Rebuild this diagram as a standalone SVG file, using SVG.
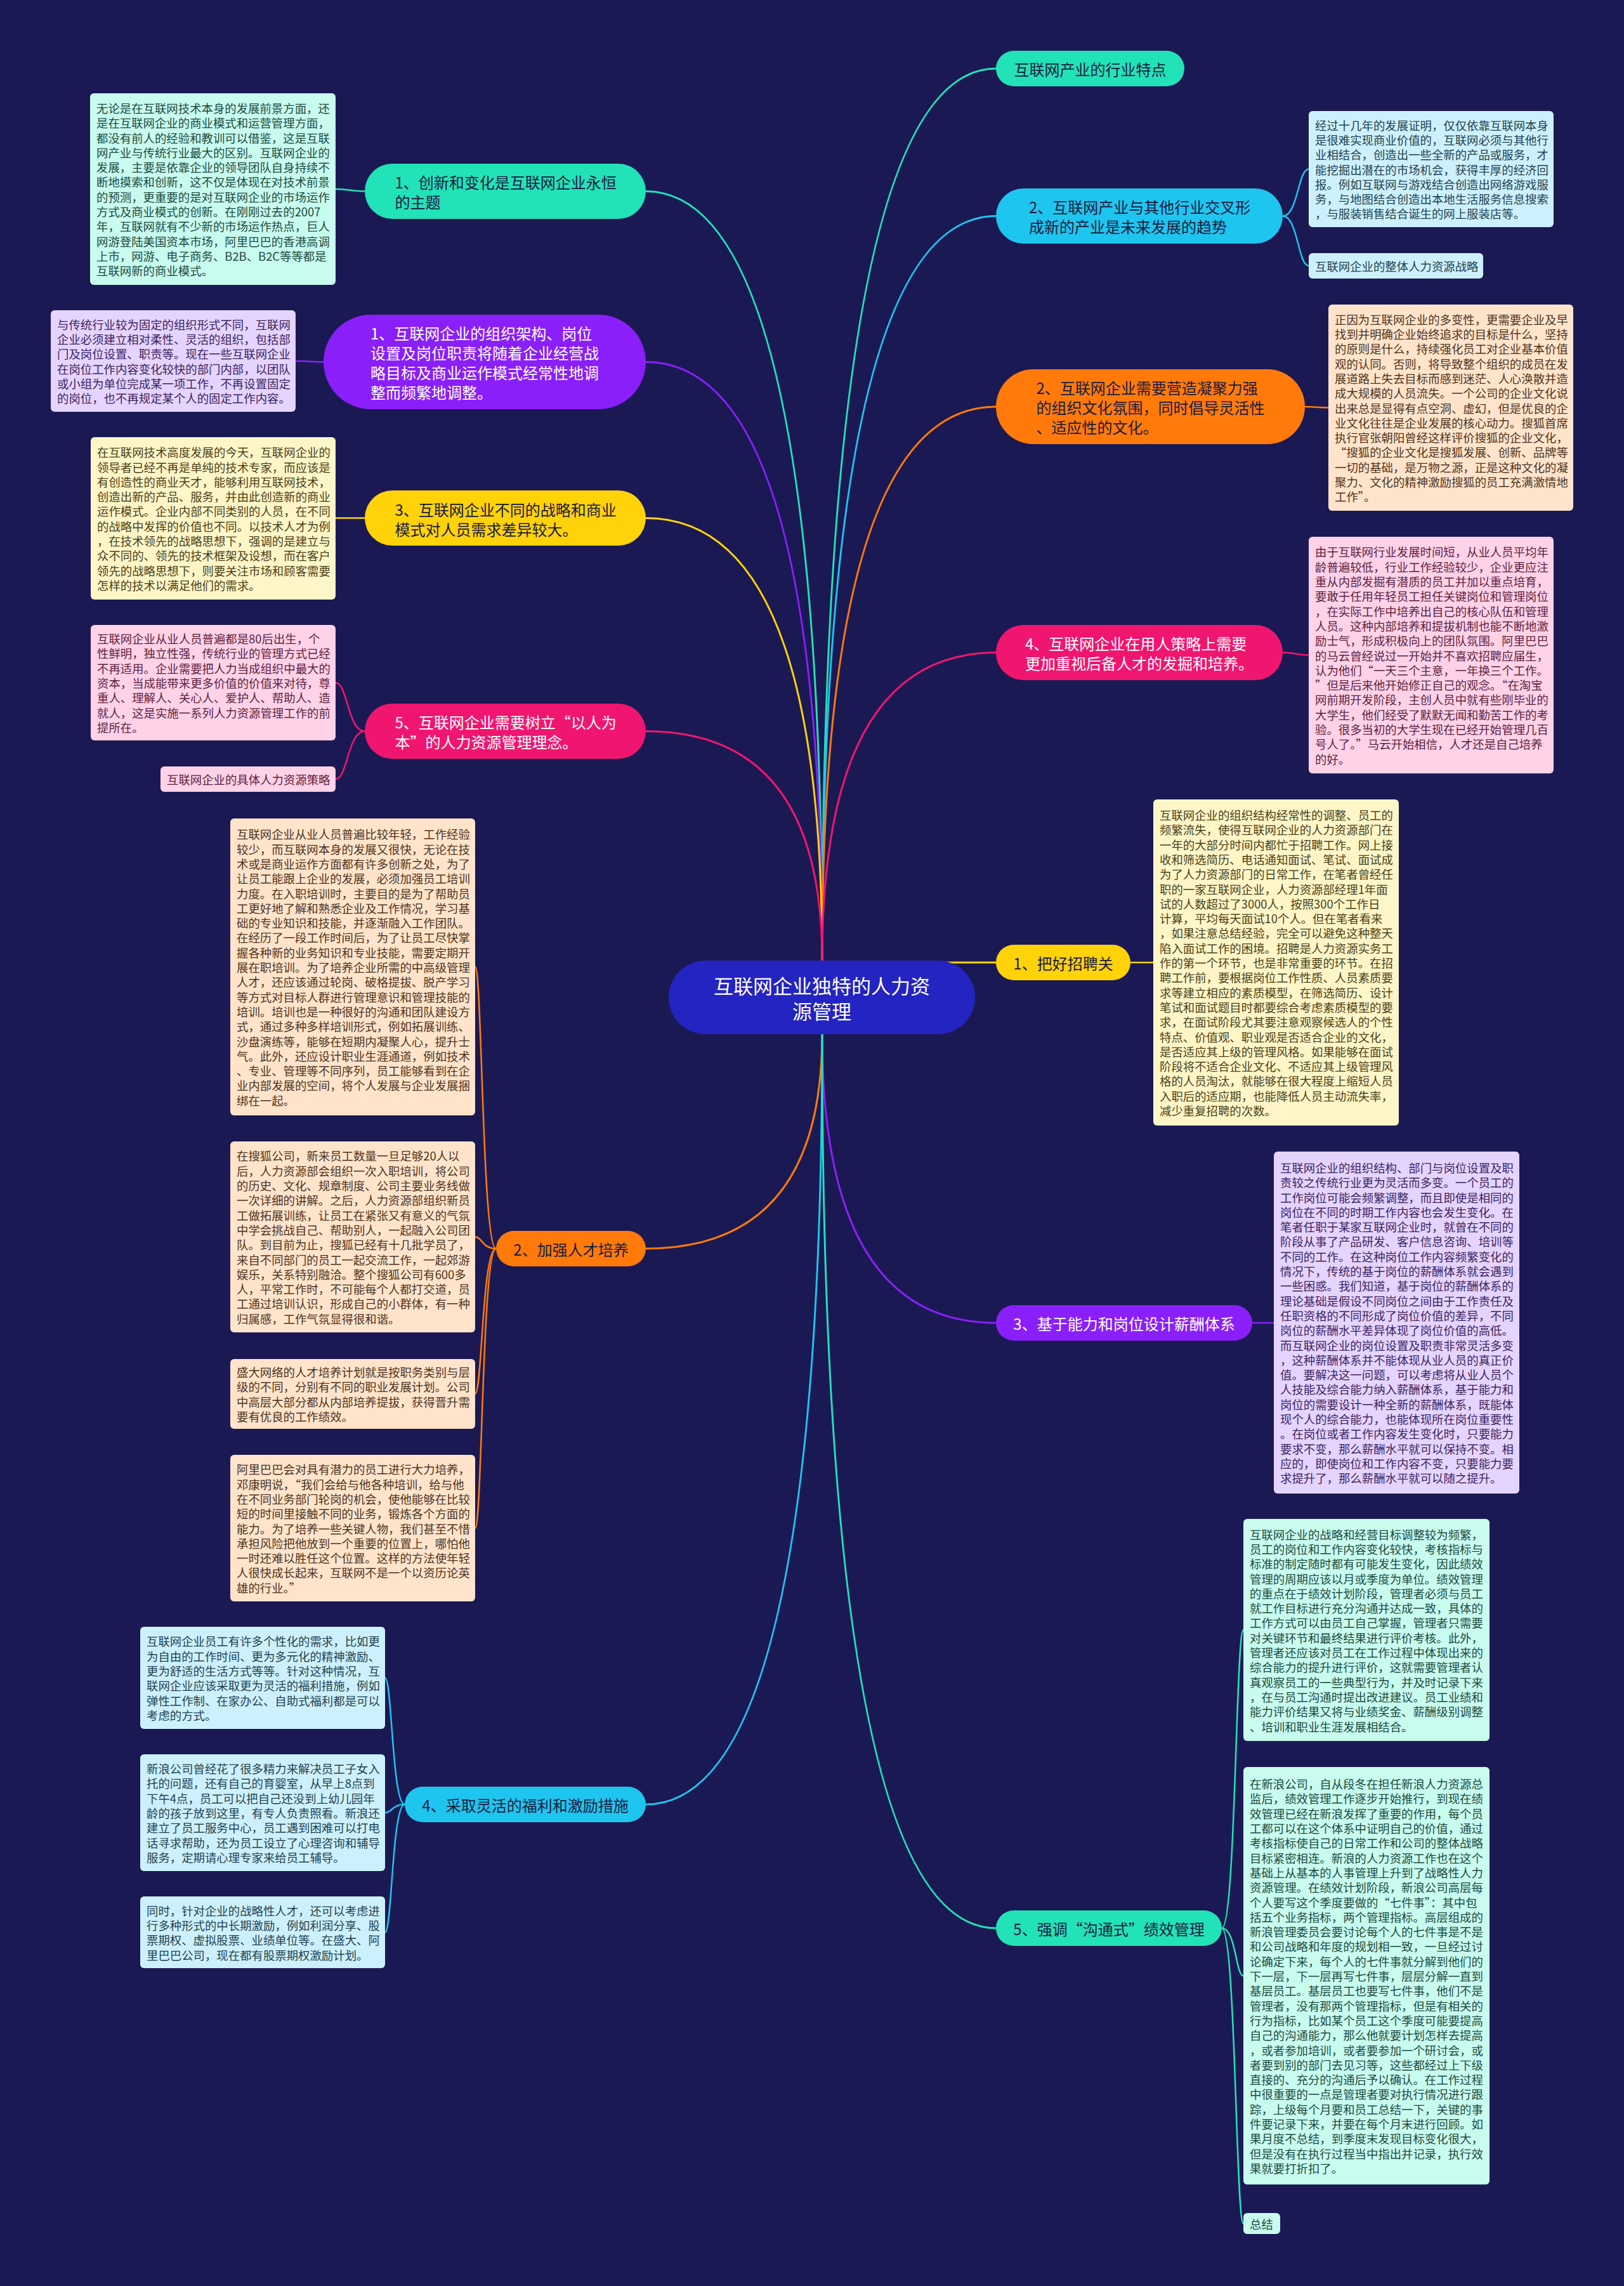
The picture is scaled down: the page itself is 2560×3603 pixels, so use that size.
<svg xmlns="http://www.w3.org/2000/svg" width="2560" height="3603" viewBox="0 0 2560 3603">
<style>
text{font-family:"Noto Sans CJK SC","Noto Sans",sans-serif;dominant-baseline:central}
.leaf text{font-size:18.4px}
.leaf rect{rx:6px}
.br text{font-size:24px}
.wire path{fill:none;stroke-width:3}
.sub path{fill:none;stroke-width:2.5}
.g{fill:#22e2b8}.gs{stroke:#22e2b8}
.b{fill:#1ec5ef}.bs{stroke:#1ec5ef}
.o{fill:#ff7a0a}.os{stroke:#ff7a0a}
.p{fill:#f0166f}.ps{stroke:#f0166f}
.y{fill:#ffd20a}.ys{stroke:#ffd20a}
.v{fill:#8a1ffa}.vs{stroke:#8a1ffa}
.dk text{fill:#1a1a3c}.wt text{fill:#ffffff}
.mint rect{fill:#c8fcef}.mint text{fill:#1c4a40}
.lav rect{fill:#e5d4ff}.lav text{fill:#3b2360}
.ylw rect{fill:#fff6c8}.ylw text{fill:#4a4016}
.pnk rect{fill:#ffd2e8}.pnk text{fill:#5c1f3d}
.pch rect{fill:#ffe4cb}.pch text{fill:#4d3320}
.blu rect{fill:#cdf1fc}.blu text{fill:#1f4150}
</style>
<rect width="2560" height="3603" fill="#1b1953"/>

<g id="connectors">
<g class="wire">
<path class="gs" d="M1296,1514 Q1296,108 1570,108"/>
<path class="gs" d="M1296,1514 Q1296,301.5 1018,301.5"/>
<path class="bs" d="M1296,1514 Q1296,340.5 1570,340.5"/>
<path class="vs" d="M1296,1514 Q1296,570.5 1018,570.5"/>
<path class="os" d="M1296,1514 Q1296,641 1570,641"/>
<path class="ys" d="M1296,1514 Q1296,816.5 1018,816.5"/>
<path class="ps" d="M1296,1514 Q1296,1028.5 1570,1028.5"/>
<path class="ps" d="M1296,1514 Q1296,1152.5 1018,1152.5"/>
<path class="ys" d="M1296,1517 H1570"/>
<path class="os" d="M1296,1630 Q1296,1968 1018,1968"/>
<path class="vs" d="M1296,1630 Q1296,2085 1570,2085"/>
<path class="bs" d="M1296,1630 Q1296,2844 1018,2844"/>
<path class="gs" d="M1296,1630 Q1296,3039 1570,3039"/>
</g>
<g class="sub">
<path class="gs" d="M575,301.5 C552,301.5 552,298 529,298"/>
<path class="vs" d="M510,570.5 C488,570.5 488,569 466,569"/>
<path class="ys" d="M575,816.5 H529"/>
<path class="ps" d="M575,1152.5 C548,1152.5 548,1076 529,1076"/>
<path class="ps" d="M575,1152.5 C548,1152.5 548,1228 529,1228"/>
<path class="os" d="M782,1968 C760,1968 760,1524 749,1524"/>
<path class="os" d="M782,1968 C760,1968 760,1949.5 749,1949.5"/>
<path class="os" d="M782,1968 C760,1968 760,2197 749,2197"/>
<path class="os" d="M782,1968 C760,1968 760,2408.5 749,2408.5"/>
<path class="bs" d="M638,2844 C618,2844 618,2644.5 607,2644.5"/>
<path class="bs" d="M638,2844 C618,2844 618,2857 607,2857"/>
<path class="bs" d="M638,2844 C618,2844 618,3045.5 607,3045.5"/>
<path class="bs" d="M2022,340.5 C2046,340.5 2046,266.5 2063,266.5"/>
<path class="bs" d="M2022,340.5 C2046,340.5 2046,419 2063,419"/>
<path class="os" d="M2057,641 C2075,641 2075,642.5 2094,642.5"/>
<path class="ps" d="M2022,1028.5 C2042,1028.5 2042,1032.5 2063,1032.5"/>
<path class="ys" d="M1782,1517 H1818"/>
<path class="vs" d="M1974,2085 H2008"/>
<path class="gs" d="M1926,3039 C1948,3039 1948,2569 1960,2569"/>
<path class="gs" d="M1926,3039 C1948,3039 1948,3114 1960,3114"/>
<path class="gs" d="M1926,3039 C1948,3039 1948,3504.5 1960,3504.5"/>
</g>
</g>

<g id="root">
<rect x="1054" y="1514" width="483" height="116" rx="58" fill="#2424c2"/>
<text x="1295.5" y="1552" font-size="31" fill="#ffffff" text-anchor="middle">互联网企业独特的人力资</text>
<text x="1295.5" y="1592" font-size="31" fill="#ffffff" text-anchor="middle">源管理</text>
</g>

<g id="n-r1" class="br dk"><rect class="g" x="1570" y="80" width="297" height="56" rx="28"/><text x="1718.5" y="108" text-anchor="middle">互联网产业的行业特点</text></g>
<g id="n-r2" class="br dk"><rect class="b" x="1570" y="297" width="452" height="87" rx="43.5"/><text><tspan x="1622" y="325">2、互联网产业与其他行业交叉形</tspan><tspan x="1622" y="356">成新的产业是未来发展的趋势</tspan></text></g>
<g id="n-r3" class="br dk"><rect class="o" x="1570" y="582" width="487" height="118" rx="59"/><text><tspan x="1633.5" y="610">2、互联网企业需要营造凝聚力强</tspan><tspan x="1633.5" y="641">的组织文化氛围，同时倡导灵活性</tspan><tspan x="1633.5" y="672">、适应性的文化。</tspan></text></g>
<g id="n-r4" class="br wt"><rect class="p" x="1570" y="985" width="452" height="87" rx="43.5"/><text><tspan x="1616" y="1013">4、互联网企业在用人策略上需要</tspan><tspan x="1616" y="1044">更加重视后备人才的发掘和培养。</tspan></text></g>
<g id="n-r5" class="br dk"><rect class="y" x="1570" y="1489" width="212" height="56" rx="28"/><text x="1676" y="1517" text-anchor="middle">1、把好招聘关</text></g>
<g id="n-r6" class="br wt"><rect class="v" x="1570" y="2057" width="404" height="56" rx="28"/><text x="1772" y="2085" text-anchor="middle">3、基于能力和岗位设计薪酬体系</text></g>
<g id="n-r7" class="br dk"><rect class="g" x="1570" y="3011" width="356" height="56" rx="28"/><text x="1748" y="3039" text-anchor="middle">5、强调“沟通式”绩效管理</text></g>

<g id="n-l1" class="br dk"><rect class="g" x="575" y="258" width="443" height="87" rx="43.5"/><text><tspan x="622.5" y="286">1、创新和变化是互联网企业永恒</tspan><tspan x="622.5" y="317">的主题</tspan></text></g>
<g id="n-l2" class="br wt"><rect class="v" x="510" y="496" width="508" height="149" rx="74.5"/><text><tspan x="584" y="524">1、互联网企业的组织架构、岗位</tspan><tspan x="584" y="555">设置及岗位职责将随着企业经营战</tspan><tspan x="584" y="586">略目标及商业运作模式经常性地调</tspan><tspan x="584" y="617">整而频繁地调整。</tspan></text></g>
<g id="n-l3" class="br dk"><rect class="y" x="575" y="773" width="443" height="87" rx="43.5"/><text><tspan x="622.5" y="801.5">3、互联网企业不同的战略和商业</tspan><tspan x="622.5" y="832.5">模式对人员需求差异较大。</tspan></text></g>
<g id="n-l4" class="br wt"><rect class="p" x="575" y="1109" width="443" height="87" rx="43.5"/><text><tspan x="622.5" y="1137">5、互联网企业需要树立“以人为</tspan><tspan x="622.5" y="1168">本”的人力资源管理理念。</tspan></text></g>
<g id="n-l5" class="br dk"><rect class="o" x="782" y="1940" width="236" height="56" rx="28"/><text x="900" y="1968" text-anchor="middle">2、加强人才培养</text></g>
<g id="n-l6" class="br dk"><rect class="b" x="638" y="2816" width="380" height="56" rx="28"/><text x="828" y="2844" text-anchor="middle">4、采取灵活的福利和激励措施</text></g>

<g id="b1" class="leaf mint"><rect x="142" y="147" width="387" height="302"/><text>
<tspan x="152" y="169.9">无论是在互联网技术本身的发展前景方面，还</tspan>
<tspan x="152" dy="23.3">是在互联网企业的商业模式和运营管理方面，</tspan>
<tspan x="152" dy="23.3">都没有前人的经验和教训可以借鉴，这是互联</tspan>
<tspan x="152" dy="23.3">网产业与传统行业最大的区别。互联网企业的</tspan>
<tspan x="152" dy="23.3">发展，主要是依靠企业的领导团队自身持续不</tspan>
<tspan x="152" dy="23.3">断地摸索和创新，这不仅是体现在对技术前景</tspan>
<tspan x="152" dy="23.3">的预测，更重要的是对互联网企业的市场运作</tspan>
<tspan x="152" dy="23.3">方式及商业模式的创新。在刚刚过去的2007</tspan>
<tspan x="152" dy="23.3">年，互联网就有不少新的市场运作热点，巨人</tspan>
<tspan x="152" dy="23.3">网游登陆美国资本市场，阿里巴巴的香港高调</tspan>
<tspan x="152" dy="23.3">上市，网游、电子商务、B2B、B2C等等都是</tspan>
<tspan x="152" dy="23.3">互联网新的商业模式。</tspan></text></g>

<g id="b2" class="leaf lav"><rect x="80" y="489" width="386" height="160"/><text>
<tspan x="90" y="510.8">与传统行业较为固定的组织形式不同，互联网</tspan>
<tspan x="90" dy="23.3">企业必须建立相对柔性、灵活的组织，包括部</tspan>
<tspan x="90" dy="23.3">门及岗位设置、职责等。现在一些互联网企业</tspan>
<tspan x="90" dy="23.3">在岗位工作内容变化较快的部门内部，以团队</tspan>
<tspan x="90" dy="23.3">或小组为单位完成某一项工作，不再设置固定</tspan>
<tspan x="90" dy="23.3">的岗位，也不再规定某个人的固定工作内容。</tspan></text></g>

<g id="b3" class="leaf ylw"><rect x="143" y="689" width="386" height="256"/><text>
<tspan x="153" y="712.2">在互联网技术高度发展的今天，互联网企业的</tspan>
<tspan x="153" dy="23.3">领导者已经不再是单纯的技术专家，而应该是</tspan>
<tspan x="153" dy="23.3">有创造性的商业天才，能够利用互联网技术，</tspan>
<tspan x="153" dy="23.3">创造出新的产品、服务，并由此创造新的商业</tspan>
<tspan x="153" dy="23.3">运作模式。企业内部不同类别的人员，在不同</tspan>
<tspan x="153" dy="23.3">的战略中发挥的价值也不同。以技术人才为例</tspan>
<tspan x="153" dy="23.3">，在技术领先的战略思想下，强调的是建立与</tspan>
<tspan x="153" dy="23.3">众不同的、领先的技术框架及设想，而在客户</tspan>
<tspan x="153" dy="23.3">领先的战略思想下，则要关注市场和顾客需要</tspan>
<tspan x="153" dy="23.3">怎样的技术以满足他们的需求。</tspan></text></g>

<g id="b4" class="leaf pnk"><rect x="143" y="985" width="386" height="182"/><text>
<tspan x="153" y="1006.1">互联网企业从业人员普遍都是80后出生，个</tspan>
<tspan x="153" dy="23.3">性鲜明，独立性强，传统行业的管理方式已经</tspan>
<tspan x="153" dy="23.3">不再适用。企业需要把人力当成组织中最大的</tspan>
<tspan x="153" dy="23.3">资本，当成能带来更多价值的价值来对待，尊</tspan>
<tspan x="153" dy="23.3">重人、理解人、关心人、爱护人、帮助人、造</tspan>
<tspan x="153" dy="23.3">就人，这是实施一系列人力资源管理工作的前</tspan>
<tspan x="153" dy="23.3">提所在。</tspan></text></g>

<g id="b4b" class="leaf pnk"><rect x="253" y="1208" width="276" height="40"/><text x="263" y="1228">互联网企业的具体人力资源策略</text></g>

<g id="b5a" class="leaf pch"><rect x="363" y="1290" width="386" height="468"/><text>
<tspan x="373" y="1314.3">互联网企业从业人员普遍比较年轻，工作经验</tspan>
<tspan x="373" dy="23.3">较少，而互联网本身的发展又很快，无论在技</tspan>
<tspan x="373" dy="23.3">术或是商业运作方面都有许多创新之处，为了</tspan>
<tspan x="373" dy="23.3">让员工能跟上企业的发展，必须加强员工培训</tspan>
<tspan x="373" dy="23.3">力度。在入职培训时，主要目的是为了帮助员</tspan>
<tspan x="373" dy="23.3">工更好地了解和熟悉企业及工作情况，学习基</tspan>
<tspan x="373" dy="23.3">础的专业知识和技能，并逐渐融入工作团队。</tspan>
<tspan x="373" dy="23.3">在经历了一段工作时间后，为了让员工尽快掌</tspan>
<tspan x="373" dy="23.3">握各种新的业务知识和专业技能，需要定期开</tspan>
<tspan x="373" dy="23.3">展在职培训。为了培养企业所需的中高级管理</tspan>
<tspan x="373" dy="23.3">人才，还应该通过轮岗、破格提拔、脱产学习</tspan>
<tspan x="373" dy="23.3">等方式对目标人群进行管理意识和管理技能的</tspan>
<tspan x="373" dy="23.3">培训。培训也是一种很好的沟通和团队建设方</tspan>
<tspan x="373" dy="23.3">式，通过多种多样培训形式，例如拓展训练、</tspan>
<tspan x="373" dy="23.3">沙盘演练等，能够在短期内凝聚人心，提升士</tspan>
<tspan x="373" dy="23.3">气。此外，还应设计职业生涯通道，例如技术</tspan>
<tspan x="373" dy="23.3">、专业、管理等不同序列，员工能够看到在企</tspan>
<tspan x="373" dy="23.3">业内部发展的空间，将个人发展与企业发展捆</tspan>
<tspan x="373" dy="23.3">绑在一起。</tspan></text></g>

<g id="b5b" class="leaf pch"><rect x="363" y="1799" width="386" height="301"/><text>
<tspan x="373" y="1821.4">在搜狐公司，新来员工数量一旦足够20人以</tspan>
<tspan x="373" dy="23.3">后，人力资源部会组织一次入职培训，将公司</tspan>
<tspan x="373" dy="23.3">的历史、文化、规章制度、公司主要业务线做</tspan>
<tspan x="373" dy="23.3">一次详细的讲解。之后，人力资源部组织新员</tspan>
<tspan x="373" dy="23.3">工做拓展训练，让员工在紧张又有意义的气氛</tspan>
<tspan x="373" dy="23.3">中学会挑战自己、帮助别人，一起融入公司团</tspan>
<tspan x="373" dy="23.3">队。到目前为止，搜狐已经有十几批学员了，</tspan>
<tspan x="373" dy="23.3">来自不同部门的员工一起交流工作，一起郊游</tspan>
<tspan x="373" dy="23.3">娱乐，关系特别融洽。整个搜狐公司有600多</tspan>
<tspan x="373" dy="23.3">人，平常工作时，不可能每个人都打交道，员</tspan>
<tspan x="373" dy="23.3">工通过培训认识，形成自己的小群体，有一种</tspan>
<tspan x="373" dy="23.3">归属感，工作气氛显得很和谐。</tspan></text></g>

<g id="b5c" class="leaf pch"><rect x="363" y="2142" width="386" height="110"/><text>
<tspan x="373" y="2162.1">盛大网络的人才培养计划就是按职务类别与层</tspan>
<tspan x="373" dy="23.3">级的不同，分别有不同的职业发展计划。公司</tspan>
<tspan x="373" dy="23.3">中高层大部分都从内部培养提拔，获得晋升需</tspan>
<tspan x="373" dy="23.3">要有优良的工作绩效。</tspan></text></g>

<g id="b5d" class="leaf pch"><rect x="363" y="2293" width="386" height="231"/><text>
<tspan x="373" y="2315.3">阿里巴巴会对具有潜力的员工进行大力培养，</tspan>
<tspan x="373" dy="23.3">邓康明说，“我们会给与他各种培训，给与他</tspan>
<tspan x="373" dy="23.3">在不同业务部门轮岗的机会，使他能够在比较</tspan>
<tspan x="373" dy="23.3">短的时间里接触不同的业务，锻炼各个方面的</tspan>
<tspan x="373" dy="23.3">能力。为了培养一些关键人物，我们甚至不惜</tspan>
<tspan x="373" dy="23.3">承担风险把他放到一个重要的位置上，哪怕他</tspan>
<tspan x="373" dy="23.3">一时还难以胜任这个位置。这样的方法使年轻</tspan>
<tspan x="373" dy="23.3">人很快成长起来，互联网不是一个以资历论英</tspan>
<tspan x="373" dy="23.3">雄的行业。”</tspan></text></g>

<g id="b6a" class="leaf blu"><rect x="221" y="2564" width="386" height="161"/><text>
<tspan x="231" y="2586.3">互联网企业员工有许多个性化的需求，比如更</tspan>
<tspan x="231" dy="23.3">为自由的工作时间、更为多元化的精神激励、</tspan>
<tspan x="231" dy="23.3">更为舒适的生活方式等等。针对这种情况，互</tspan>
<tspan x="231" dy="23.3">联网企业应该采取更为灵活的福利措施，例如</tspan>
<tspan x="231" dy="23.3">弹性工作制、在家办公、自助式福利都是可以</tspan>
<tspan x="231" dy="23.3">考虑的方式。</tspan></text></g>

<g id="b6b" class="leaf blu"><rect x="221" y="2765" width="386" height="184"/><text>
<tspan x="231" y="2787.1">新浪公司曾经花了很多精力来解决员工子女入</tspan>
<tspan x="231" dy="23.3">托的问题，还有自己的育婴室，从早上8点到</tspan>
<tspan x="231" dy="23.3">下午4点，员工可以把自己还没到上幼儿园年</tspan>
<tspan x="231" dy="23.3">龄的孩子放到这里，有专人负责照看。新浪还</tspan>
<tspan x="231" dy="23.3">建立了员工服务中心，员工遇到困难可以打电</tspan>
<tspan x="231" dy="23.3">话寻求帮助，还为员工设立了心理咨询和辅导</tspan>
<tspan x="231" dy="23.3">服务，定期请心理专家来给员工辅导。</tspan></text></g>

<g id="b6c" class="leaf blu"><rect x="221" y="2989" width="386" height="113"/><text>
<tspan x="231" y="3010.6">同时，针对企业的战略性人才，还可以考虑进</tspan>
<tspan x="231" dy="23.3">行多种形式的中长期激励，例如利润分享、股</tspan>
<tspan x="231" dy="23.3">票期权、虚拟股票、业绩单位等。在盛大、阿</tspan>
<tspan x="231" dy="23.3">里巴巴公司，现在都有股票期权激励计划。</tspan></text></g>

<g id="c1" class="leaf blu"><rect x="2063" y="175" width="386" height="183"/><text>
<tspan x="2073" y="196.6">经过十几年的发展证明，仅仅依靠互联网本身</tspan>
<tspan x="2073" dy="23.3">是很难实现商业价值的，互联网必须与其他行</tspan>
<tspan x="2073" dy="23.3">业相结合，创造出一些全新的产品或服务，才</tspan>
<tspan x="2073" dy="23.3">能挖掘出潜在的市场机会，获得丰厚的经济回</tspan>
<tspan x="2073" dy="23.3">报。例如互联网与游戏结合创造出网络游戏服</tspan>
<tspan x="2073" dy="23.3">务，与地图结合创造出本地生活服务信息搜索</tspan>
<tspan x="2073" dy="23.3">，与服装销售结合诞生的网上服装店等。</tspan></text></g>

<g id="c1b" class="leaf blu"><rect x="2063" y="399" width="275" height="40"/><text x="2073" y="419">互联网企业的整体人力资源战略</text></g>

<g id="c2" class="leaf pch"><rect x="2094" y="480" width="386" height="325"/><text>
<tspan x="2104" y="502.7">正因为互联网企业的多变性，更需要企业及早</tspan>
<tspan x="2104" dy="23.3">找到并明确企业始终追求的目标是什么，坚持</tspan>
<tspan x="2104" dy="23.3">的原则是什么，持续强化员工对企业基本价值</tspan>
<tspan x="2104" dy="23.3">观的认同。否则，将导致整个组织的成员在发</tspan>
<tspan x="2104" dy="23.3">展道路上失去目标而感到迷茫、人心涣散并造</tspan>
<tspan x="2104" dy="23.3">成大规模的人员流失。一个公司的企业文化说</tspan>
<tspan x="2104" dy="23.3">出来总是显得有点空洞、虚幻，但是优良的企</tspan>
<tspan x="2104" dy="23.3">业文化往往是企业发展的核心动力。搜狐首席</tspan>
<tspan x="2104" dy="23.3">执行官张朝阳曾经这样评价搜狐的企业文化，</tspan>
<tspan x="2104" dy="23.3">“搜狐的企业文化是搜狐发展、创新、品牌等</tspan>
<tspan x="2104" dy="23.3">一切的基础，是万物之源，正是这种文化的凝</tspan>
<tspan x="2104" dy="23.3">聚力、文化的精神激励搜狐的员工充满激情地</tspan>
<tspan x="2104" dy="23.3">工作”。</tspan></text></g>

<g id="c3" class="leaf pnk"><rect x="2063" y="846" width="386" height="373"/><text>
<tspan x="2073" y="869.4">由于互联网行业发展时间短，从业人员平均年</tspan>
<tspan x="2073" dy="23.3">龄普遍较低，行业工作经验较少，企业更应注</tspan>
<tspan x="2073" dy="23.3">重从内部发掘有潜质的员工并加以重点培育，</tspan>
<tspan x="2073" dy="23.3">要敢于任用年轻员工担任关键岗位和管理岗位</tspan>
<tspan x="2073" dy="23.3">，在实际工作中培养出自己的核心队伍和管理</tspan>
<tspan x="2073" dy="23.3">人员。这种内部培养和提拔机制也能不断地激</tspan>
<tspan x="2073" dy="23.3">励士气，形成积极向上的团队氛围。阿里巴巴</tspan>
<tspan x="2073" dy="23.3">的马云曾经说过一开始并不喜欢招聘应届生，</tspan>
<tspan x="2073" dy="23.3">认为他们“一天三个主意，一年换三个工作。</tspan>
<tspan x="2073" dy="23.3">”但是后来他开始修正自己的观念。“在淘宝</tspan>
<tspan x="2073" dy="23.3">网前期开发阶段，主创人员中就有些刚毕业的</tspan>
<tspan x="2073" dy="23.3">大学生，他们经受了默默无闻和勤苦工作的考</tspan>
<tspan x="2073" dy="23.3">验。很多当初的大学生现在已经开始管理几百</tspan>
<tspan x="2073" dy="23.3">号人了。”马云开始相信，人才还是自己培养</tspan>
<tspan x="2073" dy="23.3">的好。</tspan></text></g>

<g id="c4" class="leaf ylw"><rect x="1818" y="1260" width="387" height="514"/><text>
<tspan x="1828" y="1284">互联网企业的组织结构经常性的调整、员工的</tspan>
<tspan x="1828" dy="23.3">频繁流失，使得互联网企业的人力资源部门在</tspan>
<tspan x="1828" dy="23.3">一年的大部分时间内都忙于招聘工作。网上接</tspan>
<tspan x="1828" dy="23.3">收和筛选简历、电话通知面试、笔试、面试成</tspan>
<tspan x="1828" dy="23.3">为了人力资源部门的日常工作，在笔者曾经任</tspan>
<tspan x="1828" dy="23.3">职的一家互联网企业，人力资源部经理1年面</tspan>
<tspan x="1828" dy="23.3">试的人数超过了3000人，按照300个工作日</tspan>
<tspan x="1828" dy="23.3">计算，平均每天面试10个人。但在笔者看来</tspan>
<tspan x="1828" dy="23.3">，如果注意总结经验，完全可以避免这种整天</tspan>
<tspan x="1828" dy="23.3">陷入面试工作的困境。招聘是人力资源实务工</tspan>
<tspan x="1828" dy="23.3">作的第一个环节，也是非常重要的环节。在招</tspan>
<tspan x="1828" dy="23.3">聘工作前，要根据岗位工作性质、人员素质要</tspan>
<tspan x="1828" dy="23.3">求等建立相应的素质模型，在筛选简历、设计</tspan>
<tspan x="1828" dy="23.3">笔试和面试题目时都要综合考虑素质模型的要</tspan>
<tspan x="1828" dy="23.3">求，在面试阶段尤其要注意观察候选人的个性</tspan>
<tspan x="1828" dy="23.3">特点、价值观、职业观是否适合企业的文化，</tspan>
<tspan x="1828" dy="23.3">是否适应其上级的管理风格。如果能够在面试</tspan>
<tspan x="1828" dy="23.3">阶段将不适合企业文化、不适应其上级管理风</tspan>
<tspan x="1828" dy="23.3">格的人员淘汰，就能够在很大程度上缩短人员</tspan>
<tspan x="1828" dy="23.3">入职后的适应期，也能降低人员主动流失率，</tspan>
<tspan x="1828" dy="23.3">减少重复招聘的次数。</tspan></text></g>

<g id="c5" class="leaf lav"><rect x="2008" y="1815" width="387" height="539"/><text>
<tspan x="2018" y="1839.9">互联网企业的组织结构、部门与岗位设置及职</tspan>
<tspan x="2018" dy="23.3">责较之传统行业更为灵活而多变。一个员工的</tspan>
<tspan x="2018" dy="23.3">工作岗位可能会频繁调整，而且即使是相同的</tspan>
<tspan x="2018" dy="23.3">岗位在不同的时期工作内容也会发生变化。在</tspan>
<tspan x="2018" dy="23.3">笔者任职于某家互联网企业时，就曾在不同的</tspan>
<tspan x="2018" dy="23.3">阶段从事了产品研发、客户信息咨询、培训等</tspan>
<tspan x="2018" dy="23.3">不同的工作。在这种岗位工作内容频繁变化的</tspan>
<tspan x="2018" dy="23.3">情况下，传统的基于岗位的薪酬体系就会遇到</tspan>
<tspan x="2018" dy="23.3">一些困惑。我们知道，基于岗位的薪酬体系的</tspan>
<tspan x="2018" dy="23.3">理论基础是假设不同岗位之间由于工作责任及</tspan>
<tspan x="2018" dy="23.3">任职资格的不同形成了岗位价值的差异，不同</tspan>
<tspan x="2018" dy="23.3">岗位的薪酬水平差异体现了岗位价值的高低。</tspan>
<tspan x="2018" dy="23.3">而互联网企业的岗位设置及职责非常灵活多变</tspan>
<tspan x="2018" dy="23.3">，这种薪酬体系并不能体现从业人员的真正价</tspan>
<tspan x="2018" dy="23.3">值。要解决这一问题，可以考虑将从业人员个</tspan>
<tspan x="2018" dy="23.3">人技能及综合能力纳入薪酬体系，基于能力和</tspan>
<tspan x="2018" dy="23.3">岗位的需要设计一种全新的薪酬体系，既能体</tspan>
<tspan x="2018" dy="23.3">现个人的综合能力，也能体现所在岗位重要性</tspan>
<tspan x="2018" dy="23.3">。在岗位或者工作内容发生变化时，只要能力</tspan>
<tspan x="2018" dy="23.3">要求不变，那么薪酬水平就可以保持不变。相</tspan>
<tspan x="2018" dy="23.3">应的，即使岗位和工作内容不变，只要能力要</tspan>
<tspan x="2018" dy="23.3">求提升了，那么薪酬水平就可以随之提升。</tspan></text></g>

<g id="c6" class="leaf mint"><rect x="1960" y="2394" width="388" height="350"/><text>
<tspan x="1970" y="2417.6">互联网企业的战略和经营目标调整较为频繁，</tspan>
<tspan x="1970" dy="23.3">员工的岗位和工作内容变化较快，考核指标与</tspan>
<tspan x="1970" dy="23.3">标准的制定随时都有可能发生变化，因此绩效</tspan>
<tspan x="1970" dy="23.3">管理的周期应该以月或季度为单位。绩效管理</tspan>
<tspan x="1970" dy="23.3">的重点在于绩效计划阶段，管理者必须与员工</tspan>
<tspan x="1970" dy="23.3">就工作目标进行充分沟通并达成一致，具体的</tspan>
<tspan x="1970" dy="23.3">工作方式可以由员工自己掌握，管理者只需要</tspan>
<tspan x="1970" dy="23.3">对关键环节和最终结果进行评价考核。此外，</tspan>
<tspan x="1970" dy="23.3">管理者还应该对员工在工作过程中体现出来的</tspan>
<tspan x="1970" dy="23.3">综合能力的提升进行评价，这就需要管理者认</tspan>
<tspan x="1970" dy="23.3">真观察员工的一些典型行为，并及时记录下来</tspan>
<tspan x="1970" dy="23.3">，在与员工沟通时提出改进建议。员工业绩和</tspan>
<tspan x="1970" dy="23.3">能力评价结果又将与业绩奖金、薪酬级别调整</tspan>
<tspan x="1970" dy="23.3">、培训和职业生涯发展相结合。</tspan></text></g>

<g id="c7" class="leaf mint"><rect x="1960" y="2785" width="388" height="658"/><text>
<tspan x="1970" y="2811.1">在新浪公司，自从段冬在担任新浪人力资源总</tspan>
<tspan x="1970" dy="23.3">监后，绩效管理工作逐步开始推行，到现在绩</tspan>
<tspan x="1970" dy="23.3">效管理已经在新浪发挥了重要的作用，每个员</tspan>
<tspan x="1970" dy="23.3">工都可以在这个体系中证明自己的价值，通过</tspan>
<tspan x="1970" dy="23.3">考核指标使自己的日常工作和公司的整体战略</tspan>
<tspan x="1970" dy="23.3">目标紧密相连。新浪的人力资源工作也在这个</tspan>
<tspan x="1970" dy="23.3">基础上从基本的人事管理上升到了战略性人力</tspan>
<tspan x="1970" dy="23.3">资源管理。在绩效计划阶段，新浪公司高层每</tspan>
<tspan x="1970" dy="23.3">个人要写这个季度要做的“七件事”：其中包</tspan>
<tspan x="1970" dy="23.3">括五个业务指标，两个管理指标。高层组成的</tspan>
<tspan x="1970" dy="23.3">新浪管理委员会要讨论每个人的七件事是不是</tspan>
<tspan x="1970" dy="23.3">和公司战略和年度的规划相一致，一旦经过讨</tspan>
<tspan x="1970" dy="23.3">论确定下来，每个人的七件事就分解到他们的</tspan>
<tspan x="1970" dy="23.3">下一层，下一层再写七件事，层层分解一直到</tspan>
<tspan x="1970" dy="23.3">基层员工。基层员工也要写七件事，他们不是</tspan>
<tspan x="1970" dy="23.3">管理者，没有那两个管理指标，但是有相关的</tspan>
<tspan x="1970" dy="23.3">行为指标，比如某个员工这个季度可能要提高</tspan>
<tspan x="1970" dy="23.3">自己的沟通能力，那么他就要计划怎样去提高</tspan>
<tspan x="1970" dy="23.3">，或者参加培训，或者要参加一个研讨会，或</tspan>
<tspan x="1970" dy="23.3">者要到别的部门去见习等，这些都经过上下级</tspan>
<tspan x="1970" dy="23.3">直接的、充分的沟通后予以确认。在工作过程</tspan>
<tspan x="1970" dy="23.3">中很重要的一点是管理者要对执行情况进行跟</tspan>
<tspan x="1970" dy="23.3">踪，上级每个月要和员工总结一下，关键的事</tspan>
<tspan x="1970" dy="23.3">件要记录下来，并要在每个月末进行回顾。如</tspan>
<tspan x="1970" dy="23.3">果月度不总结，到季度末发现目标变化很大，</tspan>
<tspan x="1970" dy="23.3">但是没有在执行过程当中指出并记录，执行效</tspan>
<tspan x="1970" dy="23.3">果就要打折扣了。</tspan></text></g>

<g id="c8" class="leaf mint"><rect x="1960" y="3488" width="58" height="33"/><text x="1970" y="3504.5">总结</text></g>
</svg>
